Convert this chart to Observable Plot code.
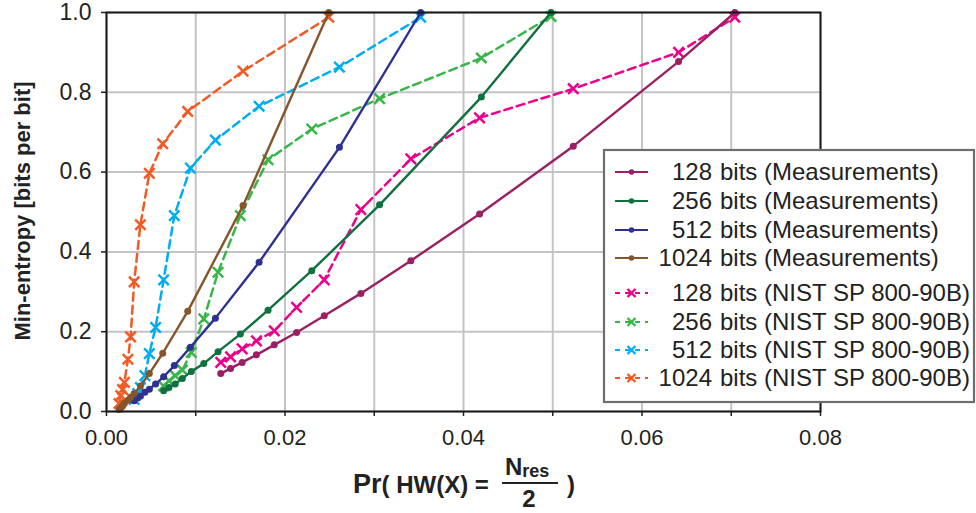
<!DOCTYPE html>
<html>
<head>
<meta charset="utf-8">
<script src="https://cdn.jsdelivr.net/npm/d3@7"></script>
<script src="https://cdn.jsdelivr.net/npm/@observablehq/plot@0.6"></script>
<style>
  html, body { margin: 0; padding: 0; background: #fff; }
  #chart svg { display: block; }
</style>
</head>
<body>
<div id="chart"></div>
<script>
// ---- data ----
const seriesNames = [
  "128 bits (Measurements)", "256 bits (Measurements)", "512 bits (Measurements)", "1024 bits (Measurements)",
  "128 bits (NIST SP 800-90B)", "256 bits (NIST SP 800-90B)", "512 bits (NIST SP 800-90B)", "1024 bits (NIST SP 800-90B)"
];
const seriesColors = ["#9b1f63", "#117040", "#2e3192", "#87552a", "#ec008c", "#39b54a", "#00aeef", "#f15a24"];

const x128  = [0.0128, 0.0139, 0.0152, 0.0168, 0.0188, 0.0213, 0.0244, 0.0285, 0.0341, 0.0418, 0.0523, 0.0641, 0.0704];
const m128  = [0.095, 0.108, 0.123, 0.142, 0.167, 0.198, 0.240, 0.296, 0.378, 0.495, 0.665, 0.877, 1.0];
const n128  = [0.123, 0.137, 0.157, 0.177, 0.202, 0.261, 0.330, 0.506, 0.633, 0.736, 0.809, 0.900, 0.988];

const x256  = [0.0064, 0.0070, 0.0077, 0.0085, 0.0095, 0.0109, 0.0125, 0.0150, 0.0181, 0.0230, 0.0306, 0.0420, 0.0498];
const m256  = [0.052, 0.060, 0.069, 0.083, 0.100, 0.120, 0.150, 0.194, 0.254, 0.353, 0.518, 0.788, 1.0];
const n256  = [0.064, 0.077, 0.090, 0.104, 0.148, 0.232, 0.349, 0.491, 0.631, 0.708, 0.784, 0.886, 0.990];

const x512  = [0.0031, 0.0035, 0.0038, 0.0043, 0.0048, 0.0055, 0.0064, 0.0076, 0.0094, 0.0122, 0.0171, 0.0261, 0.0352];
const m512  = [0.027, 0.034, 0.039, 0.048, 0.056, 0.069, 0.087, 0.115, 0.161, 0.234, 0.374, 0.662, 1.0];
const n512  = [0.030, 0.045, 0.060, 0.090, 0.145, 0.211, 0.330, 0.491, 0.610, 0.680, 0.765, 0.863, 0.988];

const x1024 = [0.0014, 0.0016, 0.0018, 0.0020, 0.0024, 0.0027, 0.0031, 0.0038, 0.0048, 0.0063, 0.0091, 0.0153, 0.0249];
const m1024 = [0.005, 0.009, 0.014, 0.020, 0.028, 0.036, 0.045, 0.064, 0.095, 0.146, 0.251, 0.516, 1.0];
const n1024 = [0.020, 0.040, 0.055, 0.073, 0.131, 0.187, 0.325, 0.468, 0.597, 0.671, 0.752, 0.853, 0.988];

const xTicks = [0, 0.01, 0.02, 0.03, 0.04, 0.05, 0.06, 0.07, 0.08];
const xTickLabels = ["0.00", "", "0.02", "", "0.04", "", "0.06", "", "0.08"];
const yTicks = [0, 0.2, 0.4, 0.6, 0.8, 1.0];
const yTickLabels = ["0.0", "0.2", "0.4", "0.6", "0.8", "1.0"];

// ---- build tables ----
const rows = (xs, ys, s) => xs.map((x, i) => ({x, y: ys[i], s}));
const meas = [
  ...rows(x128, m128, seriesNames[0]), ...rows(x256, m256, seriesNames[1]),
  ...rows(x512, m512, seriesNames[2]), ...rows(x1024, m1024, seriesNames[3])
];
const nist = [
  ...rows(x128, n128, seriesNames[4]), ...rows(x256, n256, seriesNames[5]),
  ...rows(x512, n512, seriesNames[6]), ...rows(x1024, n1024, seriesNames[7])
];

const FONT = "'Liberation Sans', Arial, Helvetica, sans-serif";

const chart = Plot.plot({
  width: 976,
  height: 513,
  marginLeft: 106,
  marginRight: 156,
  marginTop: 12,
  marginBottom: 102,
  style: {fontFamily: FONT, fontSize: "22px", color: "#222", background: "#fff"},
  x: {domain: [0, 0.08]},
  y: {domain: [0, 1]},
  color: {domain: seriesNames, range: seriesColors},
  marks: [
    Plot.gridX(xTicks, {stroke: "#c4c4c8", strokeOpacity: 1, strokeWidth: 2}),
    Plot.gridY(yTicks, {stroke: "#c4c4c8", strokeOpacity: 1, strokeWidth: 2}),
    Plot.axisX(xTicks, {tickSize: 5, tickPadding: 13, stroke: "#222", strokeWidth: 1.5, fontSize: 22, fill: "#222",
      tickFormat: (d) => xTickLabels[xTicks.indexOf(d)], label: null}),
    Plot.axisY(yTicks, {tickSize: 5, tickPadding: 10, stroke: "#222", strokeWidth: 1.5, fontSize: 23, fill: "#222",
      tickFormat: d => yTickLabels[yTicks.indexOf(d)], label: null}),
    Plot.line(nist, {x: "x", y: "y", z: "s", stroke: "s", strokeWidth: 2.5, strokeDasharray: "8,5"}),
    Plot.dot(nist, {x: "x", y: "y", stroke: "s", symbol: "times", r: 4.8, strokeWidth: 2.5}),
    Plot.line(meas, {x: "x", y: "y", z: "s", stroke: "s", strokeWidth: 2.4}),
    Plot.dot(meas, {x: "x", y: "y", fill: "s", r: 3.5}),
    Plot.frame({stroke: "#1a1a1a", strokeWidth: 2})
  ]
});
document.getElementById("chart").appendChild(chart);

// ---- titles and legend ----
const svg = d3.select(chart);
svg.append("text")
  .attr("transform", "translate(24,211) rotate(-90)")
  .attr("text-anchor", "middle").attr("dominant-baseline", "middle")
  .attr("font-family", FONT).attr("font-size", 22).attr("font-weight", "bold").attr("fill", "#222")
  .text("Min-entropy [bits per bit]");

const xt = svg.append("g").attr("font-family", FONT).attr("font-weight", "bold").attr("fill", "#222")
  .attr("text-anchor", "start");
xt.append("text").attr("x", 353).attr("y", 493).attr("font-size", 24).attr("text-anchor", "start")
  .call(t => { t.append("tspan").attr("font-size", 27).text("Pr"); t.append("tspan").text("( HW(X) ="); });
xt.append("text").attr("x", 505).attr("y", 475).attr("font-size", 24).attr("text-anchor", "start")
  .call(t => { t.append("tspan").text("N"); t.append("tspan").attr("font-size", 18).attr("dy", 2).text("res"); });
xt.append("line").attr("x1", 502).attr("x2", 558).attr("y1", 483).attr("y2", 483)
  .attr("stroke", "#222").attr("stroke-width", 2.2);
xt.append("text").attr("x", 529).attr("y", 507).attr("text-anchor", "middle").attr("font-size", 24).text("2");
xt.append("text").attr("x", 567).attr("y", 493).attr("font-size", 24).attr("text-anchor", "start").text(")");

const leg = svg.append("g").attr("font-family", FONT).attr("fill", "#222");
leg.append("rect").attr("x", 604).attr("y", 150).attr("width", 370).attr("height", 252)
  .attr("fill", "#fff").attr("stroke", "#6e6e6e").attr("stroke-width", 2.2);
const legY = [172, 201, 230, 258, 293, 322, 350, 378];
seriesNames.forEach((name, i) => {
  const y = legY[i];
  const c = seriesColors[i];
  const g = leg.append("g");
  if (i < 4) {
    g.append("line").attr("x1", 615).attr("x2", 648).attr("y1", y).attr("y2", y)
      .attr("stroke", c).attr("stroke-width", 2.2);
    g.append("circle").attr("cx", 631.5).attr("cy", y).attr("r", 2.8).attr("fill", c);
  } else {
    g.append("line").attr("x1", 615).attr("x2", 648).attr("y1", y).attr("y2", y)
      .attr("stroke", c).attr("stroke-width", 2.2).attr("stroke-dasharray", "5,5");
    g.append("path").attr("d", `M${627.5},${y-4}L${635.5},${y+4}M${627.5},${y+4}L${635.5},${y-4}`)
      .attr("stroke", c).attr("stroke-width", 2.4);
  }
  const sp = name.indexOf(" ");
  g.append("text").attr("x", 712).attr("y", y).attr("dy", "0.35em").attr("text-anchor", "end")
    .attr("font-size", 24).text(name.slice(0, sp));
  g.append("text").attr("x", 720).attr("y", y).attr("dy", "0.35em").attr("text-anchor", "start")
    .attr("font-size", 24).text(name.slice(sp + 1));
});
</script>
</body>
</html>
